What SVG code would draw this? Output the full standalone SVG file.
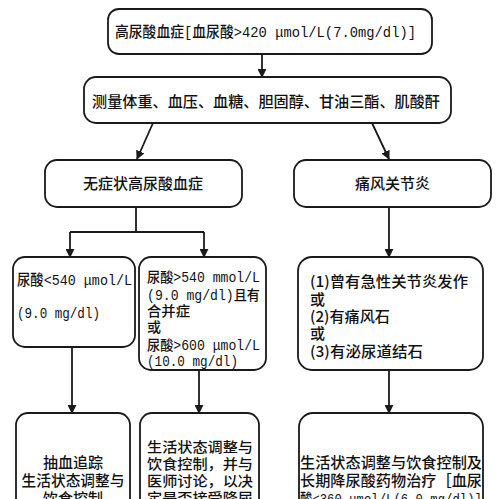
<svg xmlns="http://www.w3.org/2000/svg" width="500" height="499" viewBox="0 0 500 499">
<style>
.box{fill:#fff;stroke:#1a1a1a;stroke-width:1.8}
.t{font-family:"Liberation Mono","Noto Sans CJK SC",monospace;font-size:15px;font-weight:500;fill:#111}
.c{font-family:"Noto Sans CJK SC",sans-serif;font-size:15px;font-weight:500;fill:#111}
.s{font-size:14px}
.ln{fill:none;stroke:#1a1a1a;stroke-width:1.8}
</style>
<defs>
<marker id="ah" viewBox="0 0 10 10" refX="9" refY="5" markerWidth="9" markerHeight="9" markerUnits="userSpaceOnUse" orient="auto">
<path d="M0,0 L10,5 L0,10 z" fill="#1a1a1a"/>
</marker>
</defs>
<rect width="500" height="499" fill="#fff"/>
<g id="connectors">
<path class="ln" d="M262,54 V77" marker-end="url(#ah)"/>
<path class="ln" d="M153,123 L137,159" marker-end="url(#ah)"/>
<path class="ln" d="M372,123 L389,159" marker-end="url(#ah)"/>
<path class="ln" d="M136,207 V232"/>
<path class="ln" d="M70,232 H204"/>
<path class="ln" d="M70,232 V257" marker-end="url(#ah)"/>
<path class="ln" d="M204,232 V257" marker-end="url(#ah)"/>
<path class="ln" d="M389,207 V257" marker-end="url(#ah)"/>
<path class="ln" d="M72,347 V413" marker-end="url(#ah)"/>
<path class="ln" d="M199,370 V413" marker-end="url(#ah)"/>
<path class="ln" d="M389,370 V413" marker-end="url(#ah)"/>
</g>
<g id="n1">
<rect class="box" x="108" y="9" width="324" height="45" rx="11"/>
<text class="t" x="115" y="37" textLength="301" lengthAdjust="spacingAndGlyphs">高尿酸血症[血尿酸&gt;420 μmol/L(7.0mg/dl)]</text>
</g>
<g id="n2">
<rect class="box" x="84" y="77" width="367" height="46" rx="12"/>
<text class="c" x="92" y="107" textLength="348" lengthAdjust="spacingAndGlyphs">测量体重、血压、血糖、胆固醇、甘油三酯、肌酸酐</text>
</g>
<g id="n3">
<rect class="box" x="45" y="160" width="197" height="47" rx="12"/>
<text class="c" x="83" y="189" textLength="120" lengthAdjust="spacingAndGlyphs">无症状高尿酸血症</text>
</g>
<g id="n4">
<rect class="box" x="294" y="160" width="197" height="47" rx="12"/>
<text class="c" x="355" y="189" textLength="75" lengthAdjust="spacingAndGlyphs">痛风关节炎</text>
</g>
<g id="n5">
<rect class="box" x="13" y="257" width="122" height="90" rx="12"/>
<text class="t" x="17" y="285" textLength="115" lengthAdjust="spacingAndGlyphs">尿酸&lt;540 μmol/L</text>
<text class="t" x="17" y="318" textLength="83" lengthAdjust="spacingAndGlyphs">(9.0 mg/dl)</text>
</g>
<g id="n6">
<rect class="box" x="139" y="257" width="127" height="113" rx="12"/>
<text class="t s" x="147" y="282" textLength="113" lengthAdjust="spacingAndGlyphs">尿酸&gt;540 mmol/L</text>
<text class="t s" x="147" y="300" textLength="113" lengthAdjust="spacingAndGlyphs">(9.0 mg/dl)且有</text>
<text class="t s" x="147" y="316" textLength="43" lengthAdjust="spacingAndGlyphs">合并症</text>
<text class="t s" x="147" y="332">或</text>
<text class="t s" x="147" y="350" textLength="113" lengthAdjust="spacingAndGlyphs">尿酸&gt;600 μmol/L</text>
<text class="t s" x="147" y="366" textLength="91" lengthAdjust="spacingAndGlyphs">(10.0 mg/dl)</text>
</g>
<g id="n7">
<rect class="box" x="298" y="257" width="185" height="113" rx="14"/>
<text class="c" x="310" y="287" textLength="158" lengthAdjust="spacingAndGlyphs">(1)曾有急性关节炎发作</text>
<text class="c" x="310" y="305">或</text>
<text class="c" x="310" y="322" textLength="80" lengthAdjust="spacingAndGlyphs">(2)有痛风石</text>
<text class="c" x="310" y="339">或</text>
<text class="c" x="310" y="357" textLength="113" lengthAdjust="spacingAndGlyphs">(3)有泌尿道结石</text>
</g>
<g id="n8">
<rect class="box" x="16" y="413" width="114" height="110" rx="12"/>
<text class="c" x="73" y="468" text-anchor="middle">抽血追踪</text>
<text class="c" x="73" y="486" text-anchor="middle" textLength="103" lengthAdjust="spacingAndGlyphs">生活状态调整与</text>
<text class="c" x="73" y="504" text-anchor="middle">饮食控制</text>
</g>
<g id="n9">
<rect class="box" x="140" y="413" width="119" height="110" rx="12"/>
<text class="c s" x="147" y="452" textLength="106" lengthAdjust="spacingAndGlyphs">生活状态调整与</text>
<text class="c s" x="147" y="469" textLength="106" lengthAdjust="spacingAndGlyphs">饮食控制，并与</text>
<text class="c s" x="147" y="486" textLength="106" lengthAdjust="spacingAndGlyphs">医师讨论，以决</text>
<text class="c s" x="147" y="503" textLength="106" lengthAdjust="spacingAndGlyphs">定是否接受降尿</text>
</g>
<g id="n10">
<rect class="box" x="299" y="413" width="184" height="110" rx="14"/>
<text class="c" x="300" y="468" textLength="182" lengthAdjust="spacingAndGlyphs">生活状态调整与饮食控制及</text>
<text class="c" x="300" y="486" textLength="182" lengthAdjust="spacingAndGlyphs">长期降尿酸药物治疗［血尿</text>
<text class="t" x="300" y="504" textLength="182" lengthAdjust="spacingAndGlyphs">酸&lt;360 μmol/L(6.0 mg/dl)]</text>
</g>
</svg>
